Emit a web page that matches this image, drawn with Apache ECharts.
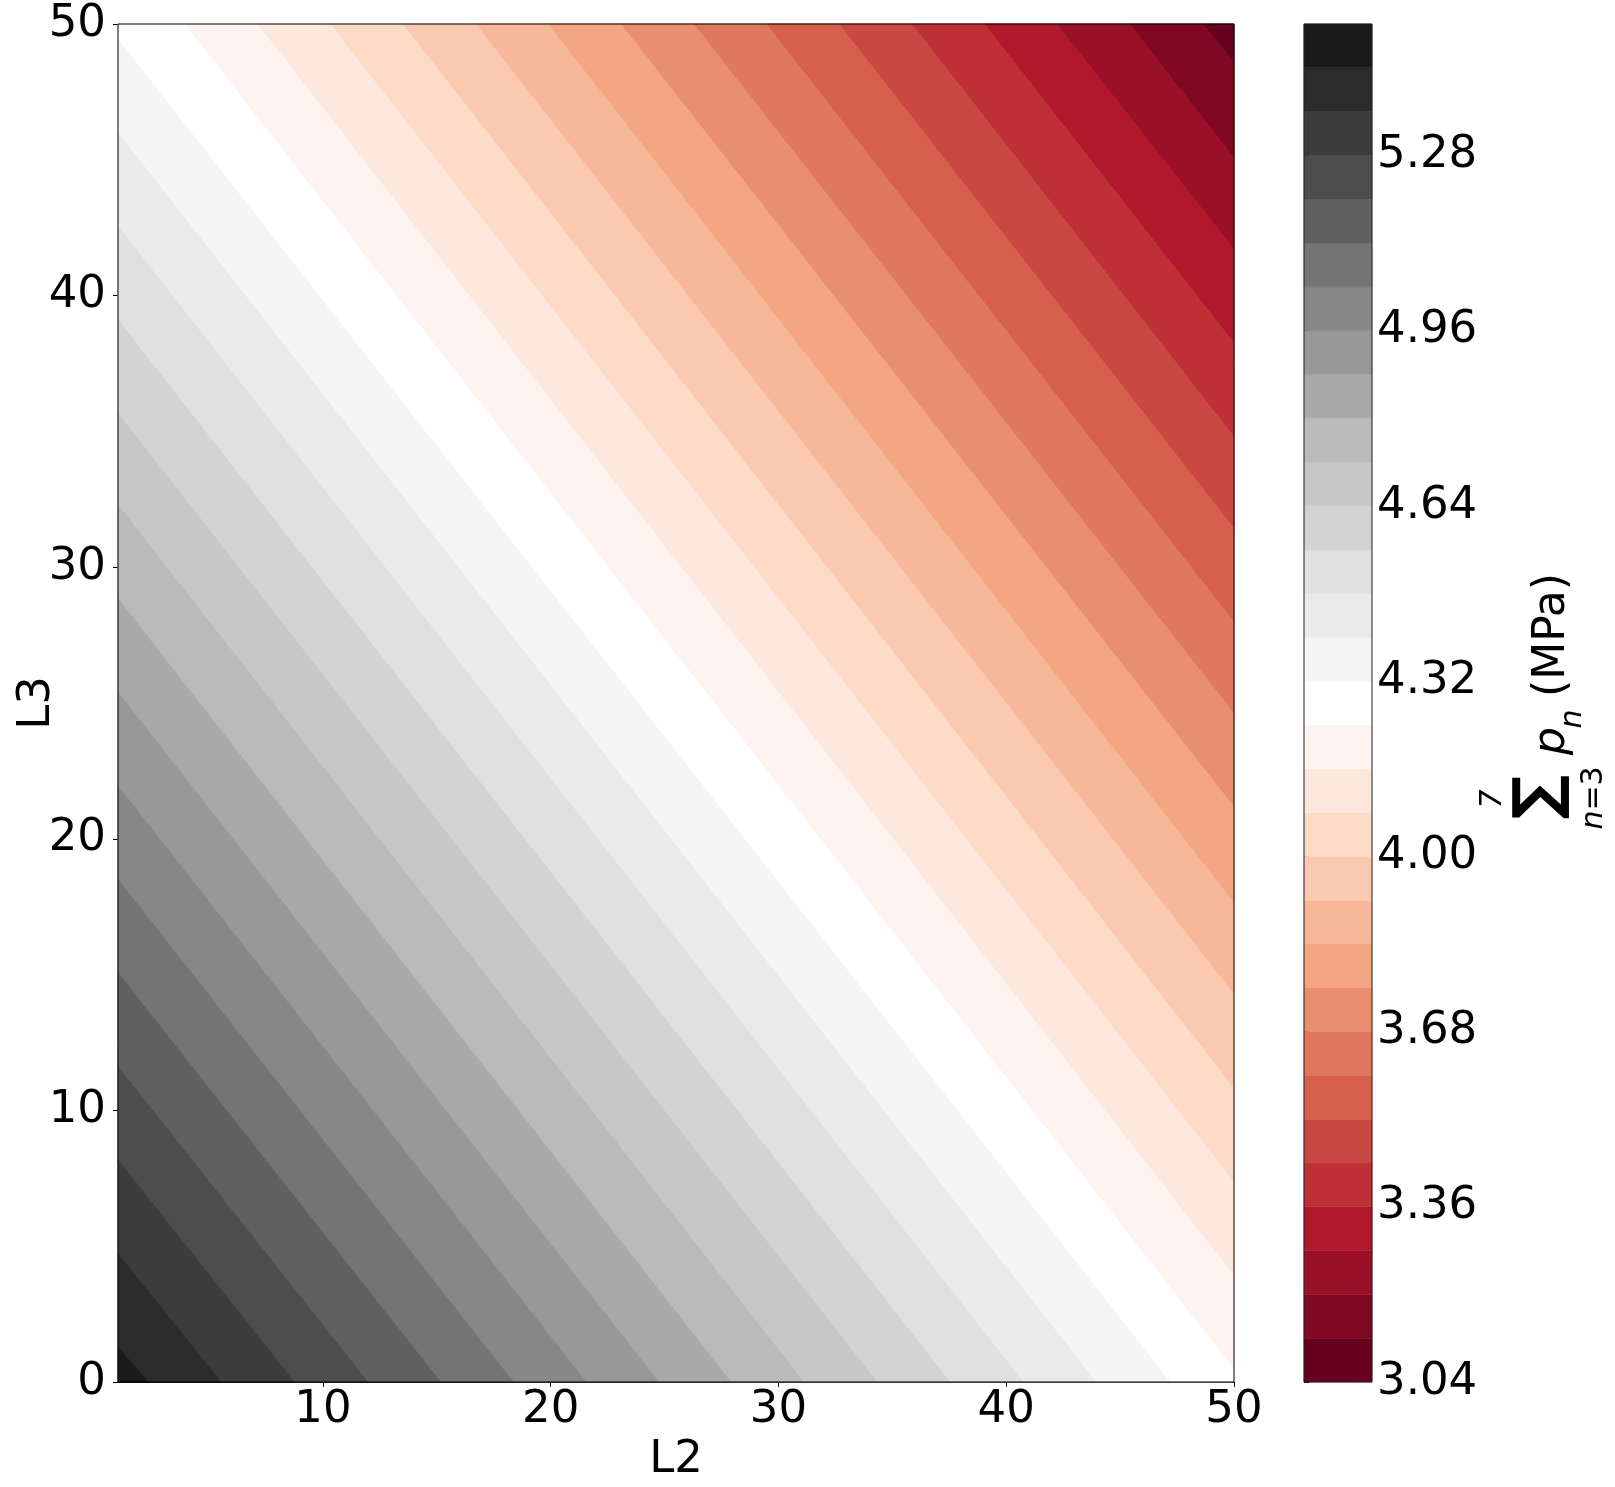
<!DOCTYPE html>
<html>
<head>
<meta charset="utf-8">
<title>contour L2 / L3</title>
<script src="https://cdn.jsdelivr.net/npm/echarts@6/dist/echarts.min.js"></script>
<style>
  html, body { margin: 0; padding: 0; background: #fff; }
  #chart { width: 1615px; height: 1487px; }
</style>
</head>
<body>
<div id="chart"></div>
<script>
// contour levels (colorbar boundaries)
const levels = [3.04, 3.12, 3.20, 3.28, 3.36, 3.44, 3.52, 3.60, 3.68, 3.76, 3.84, 3.92,
  4.00, 4.08, 4.16, 4.24, 4.32, 4.40, 4.48, 4.56, 4.64, 4.72, 4.80, 4.88, 4.96,
  5.04, 5.12, 5.20, 5.28, 5.36, 5.44, 5.52];
const cbTicks = [3.04, 3.36, 3.68, 4.00, 4.32, 4.64, 4.96, 5.28];
const xTicks = [10, 20, 30, 40, 50];
const yTicks = [0, 10, 20, 30, 40, 50];

// where each contour line meets the frame
// levels 3.12 .. 4.24 : enter through the top edge (L3 = 50), leave through the right edge (L2 = 50)
const topEdgeL2 = [48.61, 45.41, 42.21, 39.03, 35.84, 32.64, 29.45, 26.26, 23.07, 19.87, 16.69, 13.49, 10.30, 7.11, 3.91];
const rightEdgeL3 = [48.59, 45.06, 41.69, 38.24, 34.79, 31.42, 27.97, 24.60, 21.16, 17.63, 14.26, 10.80, 7.35, 3.90, 0.45];
// levels 4.32 .. 5.44 : enter through the left edge (L2 = 1), leave through the bottom edge (L3 = 0)
const leftEdgeL3 = [49.43, 45.98, 42.54, 39.09, 35.65, 32.28, 28.83, 25.39, 21.94, 18.50, 15.06, 11.61, 8.17, 4.72, 1.28];
const bottomEdgeL2 = [47.18, 43.93, 40.73, 37.52, 34.32, 31.10, 27.90, 24.74, 21.55, 18.35, 15.16, 11.97, 8.74, 5.52, 2.33];

// RdGy band colours, low -> high
const bandColors = ['#67001f', '#800823', '#991027', '#b2182b', '#be3036', '#ca4842', '#d6604d',
  '#e0775f', '#ea8e70', '#f4a582', '#f7b799', '#fac9b0', '#fddbc7', '#fee7dd', '#fef3ee',
  '#ffffff', '#f5f5f5', '#eaeaea', '#e0e0e0', '#d3d3d3', '#c7c7c7', '#bababa', '#a9a9a9',
  '#989898', '#878787', '#747474', '#606060', '#4d4d4d', '#3c3c3c', '#2b2b2b', '#1a1a1a'];

const L2_MIN = 1, L2_MAX = 50, L3_MIN = 0, L3_MAX = 50;
const FONT = 'DejaVu Sans';

// boundary line k (1..30) as two points on the frame
const lines = [null];
topEdgeL2.forEach((t, i) => lines.push([[t, L3_MAX], [L2_MAX, rightEdgeL3[i]]]));
leftEdgeL3.forEach((l, i) => lines.push([[L2_MIN, l], [bottomEdgeL2[i], L3_MIN]]));

const highCorner = [L2_MIN, L3_MIN];
function side(line, p) {
  const a = line[0], b = line[1];
  return (b[0] - a[0]) * (p[1] - a[1]) - (b[1] - a[1]) * (p[0] - a[0]);
}
function clipHalf(poly, line, keep) {
  const out = [];
  for (let i = 0; i < poly.length; i++) {
    const cur = poly[i], nxt = poly[(i + 1) % poly.length];
    const sc = side(line, cur) * keep, sn = side(line, nxt) * keep;
    if (sc >= 0) out.push(cur);
    if ((sc >= 0) !== (sn >= 0)) {
      const t = sc / (sc - sn);
      out.push([cur[0] + t * (nxt[0] - cur[0]), cur[1] + t * (nxt[1] - cur[1])]);
    }
  }
  return out;
}
function bandPolygon(k) {
  let poly = [[L2_MIN, L3_MIN], [L2_MAX, L3_MIN], [L2_MAX, L3_MAX], [L2_MIN, L3_MAX]];
  if (k >= 1) poly = clipHalf(poly, lines[k], Math.sign(side(lines[k], highCorner)));
  if (k + 1 < lines.length) poly = clipHalf(poly, lines[k + 1], -Math.sign(side(lines[k + 1], highCorner)));
  return poly;
}

const chart = echarts.init(document.getElementById('chart'));

const labelStyle = { fontFamily: FONT, fontSize: 45, color: '#000' };
const tickStyle = { show: true, length: 5, lineStyle: { color: '#000', width: 1 } };

const option = {
  animation: false,
  backgroundColor: '#fff',
  grid: [
    { left: 118, top: 24, width: 1116, height: 1358, outerBoundsMode: 'none', containLabel: false,
      show: true, borderColor: '#000', borderWidth: 1, backgroundColor: 'transparent', z: 10 },
    { left: 1304, top: 24, width: 68, height: 1358, outerBoundsMode: 'none', containLabel: false,
      show: true, borderColor: '#222', borderWidth: 1, backgroundColor: 'transparent', z: 10 }
  ],
  xAxis: [
    {
      type: 'value', gridIndex: 0, min: L2_MIN, max: L2_MAX,
      axisLine: { show: true, lineStyle: { color: '#000' } },
      splitLine: { show: false },
      axisTick: Object.assign({ customValues: xTicks }, tickStyle),
      axisLabel: Object.assign({ customValues: xTicks, margin: 6 }, labelStyle),
      name: 'L2', nameLocation: 'middle', nameGap: 47,
      nameTextStyle: labelStyle
    },
    { type: 'value', gridIndex: 1, min: 0, max: 1, show: false }
  ],
  yAxis: [
    {
      type: 'value', gridIndex: 0, min: L3_MIN, max: L3_MAX,
      axisLine: { show: true, lineStyle: { color: '#000' } },
      splitLine: { show: false },
      axisTick: Object.assign({ customValues: yTicks }, tickStyle),
      axisLabel: Object.assign({ customValues: yTicks, margin: 12 }, labelStyle),
      name: 'L3', nameLocation: 'middle', nameGap: 58, nameMoveOverlap: false,
      nameTextStyle: labelStyle
    },
    {
      type: 'value', gridIndex: 1, position: 'right', min: levels[0], max: levels[levels.length - 1],
      axisLine: { show: false },
      splitLine: { show: false },
      axisTick: Object.assign({ customValues: cbTicks }, tickStyle),
      axisLabel: Object.assign({ customValues: cbTicks, margin: 5, formatter: v => v.toFixed(2) }, labelStyle)
    }
  ],
  series: [
    {
      type: 'custom',
      xAxisIndex: 0, yAxisIndex: 0,
      z: 1,
      data: bandColors.map((c, k) => [k]),
      renderItem: function (params, api) {
        const k = params.dataIndex;
        const pts = bandPolygon(k).map(p => api.coord(p));
        return {
          type: 'polygon',
          shape: { points: pts },
          style: { fill: bandColors[k], stroke: bandColors[k], lineWidth: 1 }
        };
      }
    },
    {
      type: 'custom',
      xAxisIndex: 1, yAxisIndex: 1,
      z: 1,
      data: bandColors.map((c, k) => [0.5, levels[k]]),
      renderItem: function (params, api) {
        const k = params.dataIndex;
        const p0 = api.coord([0, levels[k]]);
        const p1 = api.coord([1, levels[k + 1]]);
        return {
          type: 'rect',
          shape: { x: p0[0], y: p1[1], width: p1[0] - p0[0], height: p0[1] - p1[1] },
          style: { fill: bandColors[k], stroke: bandColors[k], lineWidth: 0.5 }
        };
      }
    }
  ],
  graphic: [
    // colorbar label: sum_{n=3}^{7} p_n (MPa), rotated
    { type: 'text', x: 1493, y: 799, rotation: Math.PI / 2,
      style: { text: '7', font: 'italic 30px "DejaVu Sans"', fill: '#000', align: 'center', verticalAlign: 'middle' } },
    { type: 'text', x: 1541, y: 797, rotation: Math.PI / 2,
      style: { text: '\u2211', font: 'bold 62px "DejaVu Sans"', fill: '#000', align: 'center', verticalAlign: 'middle' } },
    { type: 'text', x: 1594, y: 798, rotation: Math.PI / 2,
      style: { text: '{i|n}=3', fill: '#000', align: 'center', verticalAlign: 'middle',
        font: '30px "DejaVu Sans"',
        rich: { i: { fontFamily: FONT, fontStyle: 'italic', fontSize: 30, color: '#000' } } } },
    { type: 'text', x: 1553, y: 741, rotation: Math.PI / 2,
      style: { text: 'p', font: 'italic 44px "DejaVu Sans"', fill: '#000', align: 'center', verticalAlign: 'middle' } },
    { type: 'text', x: 1573, y: 719, rotation: Math.PI / 2,
      style: { text: 'n', font: 'italic 30px "DejaVu Sans"', fill: '#000', align: 'center', verticalAlign: 'middle' } },
    { type: 'text', x: 1553, y: 635, rotation: Math.PI / 2,
      style: { text: '(MPa)', font: '44px "DejaVu Sans"', fill: '#000', align: 'center', verticalAlign: 'middle' } }
  ]
};

chart.setOption(option);
window.addEventListener('resize', chart.resize);
</script>
</body>
</html>
